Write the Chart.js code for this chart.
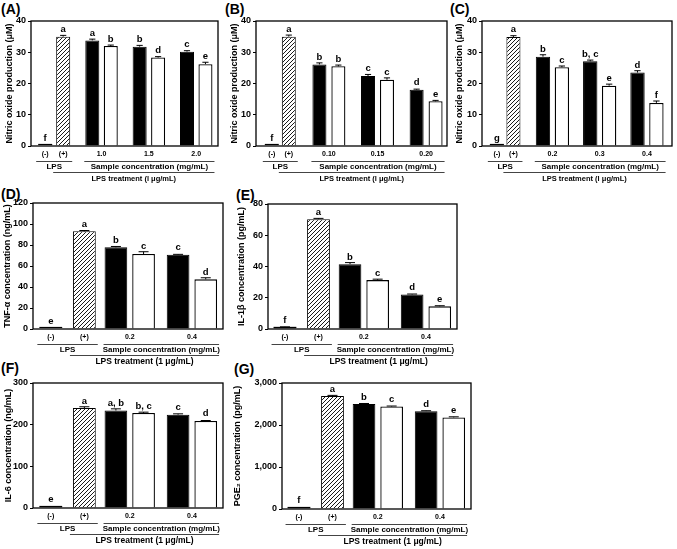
<!DOCTYPE html>
<html>
<head>
<meta charset="utf-8">
<script src="https://cdn.jsdelivr.net/npm/chart.js@4.4.1/dist/chart.umd.min.js"></script>
<style>
body { margin: 0; background: #fff; width: 677px; height: 549px; position: relative; overflow: hidden; font-family: "Liberation Sans", Arial, sans-serif; }
canvas { position: absolute; }
.tag { position: absolute; font-weight: bold; font-size: 14px; line-height: 14px; }
</style>
</head>
<body>
<div class="tag" style="left:1px;top:2px">(A)</div>
<div class="tag" style="left:225px;top:2px">(B)</div>
<div class="tag" style="left:450px;top:2px">(C)</div>
<div class="tag" style="left:1px;top:187px">(D)</div>
<div class="tag" style="left:236px;top:188px">(E)</div>
<div class="tag" style="left:1px;top:361px">(F)</div>
<div class="tag" style="left:234px;top:362px">(G)</div>
<canvas id="chartA"></canvas>
<canvas id="chartB"></canvas>
<canvas id="chartC"></canvas>
<canvas id="chartD"></canvas>
<canvas id="chartE"></canvas>
<canvas id="chartF"></canvas>
<canvas id="chartG"></canvas>
<script>
// ---- data ----
// ctrl = [LPS (-), LPS (+)], black / white = sample bars per concentration
const aConc = ["1.0", "1.5", "2.0"];
const aCtrl = [0.2, 35.0];
const aCtrlErr = [0, 0.4];
const aCtrlSig = ["f", "a"];
const aBlack = [33.8, 31.8, 30.2];
const aBlackErr = [0.4, 0.4, 0.3];
const aBlackSig = ["a", "b", "c"];
const aWhite = [32.0, 28.3, 26.2];
const aWhiteErr = [0.3, 0.3, 0.6];
const aWhiteSig = ["b", "d", "e"];

const bConc = ["0.10", "0.15", "0.20"];
const bCtrl = [0.2, 35.0];
const bCtrlErr = [0, 0.5];
const bCtrlSig = ["f", "a"];
const bBlack = [26.1, 22.4, 18.0];
const bBlackErr = [0.5, 0.5, 0.2];
const bBlackSig = ["b", "c", "d"];
const bWhite = [25.5, 21.2, 14.3];
const bWhiteErr = [0.4, 0.6, 0.3];
const bWhiteSig = ["b", "c", "e"];

const cConc = ["0.2", "0.3", "0.4"];
const cCtrl = [0.2, 34.9];
const cCtrlErr = [0, 0.4];
const cCtrlSig = ["g", "a"];
const cBlack = [28.6, 27.1, 23.5];
const cBlackErr = [0.6, 0.4, 0.6];
const cBlackSig = ["b", "b, c", "d"];
const cWhite = [25.2, 19.3, 13.8];
const cWhiteErr = [0.4, 0.5, 0.6];
const cWhiteSig = ["c", "e", "f"];

const noTicks = [0, 10, 20, 30, 40];

const dConc = ["0.2", "0.4"];
const dCtrl = [0.5, 93.0];
const dCtrlErr = [0, 0.8];
const dCtrlSig = ["e", "a"];
const dBlack = [77.8, 70.6];
const dBlackErr = [0.8, 0.5];
const dBlackSig = ["b", "c"];
const dWhite = [71.4, 47.3];
const dWhiteErr = [2.2, 1.5];
const dWhiteSig = ["c", "d"];
const dTicks = [0, 20, 40, 60, 80, 100, 120];

const eConc = ["0.2", "0.4"];
const eCtrl = [1.0, 70.3];
const eCtrlErr = [0.4, 0.5];
const eCtrlSig = ["f", "a"];
const eBlack = [41.5, 22.1];
const eBlackErr = [1.0, 0.3];
const eBlackSig = ["b", "d"];
const eWhite = [31.3, 14.5];
const eWhiteErr = [0.6, 0.4];
const eWhiteSig = ["c", "e"];
const eTicks = [0, 20, 40, 60, 80];

const fConc = ["0.2", "0.4"];
const fCtrl = [3, 240];
const fCtrlErr = [0, 3];
const fCtrlSig = ["e", "a"];
const fBlack = [234, 224];
const fBlackErr = [4, 2];
const fBlackSig = ["a, b", "c"];
const fWhite = [228, 209];
const fWhiteErr = [2, 1];
const fWhiteSig = ["b, c", "d"];
const fTicks = [0, 100, 200, 300];

const gConc = ["0.2", "0.4"];
const gCtrl = [30, 2690];
const gCtrlErr = [0, 15];
const gCtrlSig = ["f", "a"];
const gBlack = [2500, 2330];
const gBlackErr = [12, 10];
const gBlackSig = ["b", "d"];
const gWhite = [2440, 2180];
const gWhiteErr = [12, 15];
const gWhiteSig = ["c", "e"];
const gTicks = [0, 1000, 2000, 3000];

const FONT = '"Liberation Sans", Arial, sans-serif';
Chart.defaults.font.family = FONT;
Chart.defaults.color = "#000";

function hatchPattern() {
    let c = document.createElement("canvas");
    c.width = 4;
    c.height = 4;
    let g = c.getContext("2d");
    g.fillStyle = "#fff";
    g.fillRect(0, 0, 4, 4);
    g.strokeStyle = "#000";
    g.lineWidth = 0.9;
    g.beginPath();
    g.moveTo(0, 4); g.lineTo(4, 0);
    g.moveTo(-1, 1); g.lineTo(1, -1);
    g.moveTo(3, 5); g.lineTo(5, 3);
    g.stroke();
    return g.createPattern(c, "repeat");
}

function makeChart(id, d, L) {
    let slots = [0];
    for (let i = 0; i < d.conc.length; i++) slots.push(i + 1);

    let ctrlCol = (arr, k, empty) => slots.map(i => i === 0 ? arr[k] : empty);
    let sampCol = (arr, empty) => slots.map(i => i === 0 ? empty : arr[i - 1]);
    let pts = vals => vals.map((v, i) => ({x: slots[i], y: v}));

    let ctrlOpt = {categoryPercentage: L.cpCtrl, barPercentage: L.bpCtrl, skipNull: true, borderColor: "#000", borderSkipped: "start"};
    let sampOpt = {categoryPercentage: L.cp, barPercentage: L.bp, skipNull: true, borderColor: "#000", borderSkipped: "start"};

    let datasets = [
        Object.assign({data: pts(ctrlCol(d.ctrl, 0, null)), err: ctrlCol(d.ctrlErr, 0, 0), sig: ctrlCol(d.ctrlSig, 0, ""),
            backgroundColor: "#000", borderWidth: 1}, ctrlOpt),
        Object.assign({data: pts(ctrlCol(d.ctrl, 1, null)), err: ctrlCol(d.ctrlErr, 1, 0), sig: ctrlCol(d.ctrlSig, 1, ""),
            backgroundColor: hatchPattern(), borderWidth: 1}, ctrlOpt),
        Object.assign({data: pts(sampCol(d.black, null)), err: sampCol(d.blackErr, 0), sig: sampCol(d.blackSig, ""),
            backgroundColor: "#000", borderWidth: 1}, sampOpt),
        Object.assign({data: pts(sampCol(d.white, null)), err: sampCol(d.whiteErr, 0), sig: sampCol(d.whiteSig, ""),
            backgroundColor: "#fff", borderWidth: 1.3}, sampOpt)
    ];

    // error bars, letters, frame and the bracket labels under the axis
    let panelText = {
        id: "panelText",
        afterDatasetsDraw(chart) {
            let ctx = chart.ctx;
            let ys = chart.scales.y;
            ctx.save();
            chart.data.datasets.forEach((ds, di) => {
                let meta = chart.getDatasetMeta(di);
                meta.data.forEach((bar, i) => {
                    let v = ds.data[i].y;
                    if (v === null) return;
                    let top = ys.getPixelForValue(v + ds.err[i]);
                    let half = bar.width * 0.22;
                    if (ds.err[i] > 0) {
                        ctx.strokeStyle = "#000";
                        ctx.lineWidth = 1;
                        ctx.beginPath();
                        ctx.moveTo(bar.x, bar.y);
                        ctx.lineTo(bar.x, top);
                        ctx.moveTo(bar.x - half, top);
                        ctx.lineTo(bar.x + half, top);
                        ctx.stroke();
                    }
                    ctx.fillStyle = "#000";
                    ctx.font = "bold 9.5px " + FONT;
                    ctx.textAlign = "center";
                    ctx.textBaseline = "alphabetic";
                    ctx.fillText(ds.sig[i], bar.x, Math.min(top, bar.y - 1.5) - 3);
                });
            });
            // the near-zero (-) bar shows as a short dark line on the baseline
            let neg = chart.getDatasetMeta(0).data[0];
            let a = chart.chartArea;
            ctx.strokeStyle = "#000";
            ctx.lineWidth = 1.2;
            ctx.beginPath();
            ctx.moveTo(neg.x - neg.width / 2, Math.min(neg.y, a.bottom - 1.5));
            ctx.lineTo(neg.x + neg.width / 2, Math.min(neg.y, a.bottom - 1.5));
            ctx.stroke();

            ctx.lineWidth = 1.3;
            ctx.strokeRect(a.left, a.top, a.right - a.left, a.bottom - a.top);
            ctx.restore();
        },
        afterDraw(chart) {
            let ctx = chart.ctx;
            let B = chart.chartArea.bottom;
            let neg = chart.getDatasetMeta(0).data[0];
            let pos = chart.getDatasetMeta(1).data[0];
            let first = chart.getDatasetMeta(2).data[1];
            let whites = chart.getDatasetMeta(3).data;
            let last = whites[whites.length - 1];

            let l1a = neg.x - neg.width / 2 - 2, l1b = pos.x + pos.width / 2 + 2;
            let s1a = first.x - first.width / 2 - 1, s1b = last.x + last.width / 2 + 2;
            let l2a = pos.x - pos.width / 2 - 3;

            ctx.save();
            ctx.fillStyle = "#000";
            ctx.textAlign = "center";
            ctx.textBaseline = "middle";
            ctx.font = "bold 7px " + FONT;
            ctx.fillText("(-)", neg.x, B + 8);
            ctx.fillText("(+)", pos.x, B + 8);

            ctx.strokeStyle = "#444";
            ctx.lineWidth = 1;
            ctx.beginPath();
            ctx.moveTo(l1a, B + 15.5); ctx.lineTo(l1b, B + 15.5);
            ctx.moveTo(s1a, B + 15.5); ctx.lineTo(s1b, B + 15.5);
            ctx.moveTo(l2a, B + 26.5); ctx.lineTo(s1b, B + 26.5);
            ctx.stroke();

            ctx.font = "bold 8px " + FONT;
            ctx.fillText("LPS", (l1a + l1b) / 2, B + 21);
            ctx.fillText("Sample concentration (mg/mL)", (s1a + s1b) / 2, B + 21);
            ctx.font = "bold " + L.treatSize + "px " + FONT;
            ctx.fillText(L.treat, (l2a + s1b) / 2, B + 33);
            ctx.restore();
        }
    };

    let canvas = document.getElementById(id);
    canvas.width = L.w;
    canvas.height = L.h;
    canvas.style.left = L.left + "px";
    canvas.style.top = L.top + "px";

    return new Chart(canvas, {
        type: "bar",
        data: {datasets: datasets},
        options: {
            responsive: false,
            animation: false,
            layout: {padding: {left: 0, top: L.pt - L.top, right: L.left + L.w - L.pr, bottom: 0}},
            plugins: {legend: {display: false}, tooltip: {enabled: false}},
            scales: {
                x: {
                    type: "linear",
                    offset: false,
                    min: L.xMin,
                    max: L.xMax,
                    grid: {display: false, drawTicks: false},
                    border: {display: false},
                    afterBuildTicks: s => { s.ticks = d.conc.map((c, i) => ({value: i + 1})); },
                    afterFit: s => { s.height = L.top + L.h - L.pb; },
                    ticks: {
                        callback: v => d.conc[v - 1],
                        font: {size: 7, weight: "bold"},
                        padding: 4,
                        maxRotation: 0,
                        autoSkip: false
                    }
                },
                y: {
                    min: d.yTicks[0],
                    max: d.yTicks[d.yTicks.length - 1],
                    afterBuildTicks: s => { s.ticks = d.yTicks.map(v => ({value: v})); },
                    afterFit: s => { s.width = L.pl - L.left; },
                    grid: {display: true, drawOnChartArea: false, drawTicks: true, tickLength: 3, color: "#000", lineWidth: 1},
                    border: {display: false},
                    ticks: {
                        font: {size: 9, weight: "bold"},
                        padding: 2,
                        callback: v => v.toLocaleString("en-US")
                    },
                    title: {
                        display: true,
                        text: d.yTitle,
                        font: {size: 9, weight: "bold"},
                        padding: {top: L.tOff, bottom: 0}
                    }
                }
            }
        },
        plugins: [panelText]
    });
}

const rowOne = {cpCtrl: 0.76, bpCtrl: 0.78, cp: 0.78, bp: 0.76, treat: "LPS treatment (l \u03bcg/mL)", treatSize: 7.5};
const rowTwo = {cpCtrl: 1.08, bpCtrl: 0.68, cp: 0.89, bp: 0.82, treat: "LPS treatment (1 \u03bcg/mL)", treatSize: 8.5};

makeChart("chartA",
    {conc: aConc, ctrl: aCtrl, ctrlErr: aCtrlErr, ctrlSig: aCtrlSig, black: aBlack, blackErr: aBlackErr, blackSig: aBlackSig,
     white: aWhite, whiteErr: aWhiteErr, whiteSig: aWhiteSig, yTicks: noTicks, yTitle: "Nitric oxide production (\u03bcM)"},
    Object.assign({}, rowOne, {left: 0, top: 0, w: 225, h: 186, pl: 31, pt: 21, pr: 218, pb: 146, xMin: -0.49, xMax: 3.46, tOff: 4.5}));

makeChart("chartB",
    {conc: bConc, ctrl: bCtrl, ctrlErr: bCtrlErr, ctrlSig: bCtrlSig, black: bBlack, blackErr: bBlackErr, blackSig: bBlackSig,
     white: bWhite, whiteErr: bWhiteErr, whiteSig: bWhiteSig, yTicks: noTicks, yTitle: "Nitric oxide production (\u03bcM)"},
    Object.assign({}, rowOne, {left: 225, top: 0, w: 226, h: 186, pl: 256, pt: 21, pr: 447, pb: 146, xMin: -0.5, xMax: 3.43, tOff: 4.5,
        cpCtrl: 0.70, bpCtrl: 0.82, cp: 0.78, bp: 0.74}));

makeChart("chartC",
    {conc: cConc, ctrl: cCtrl, ctrlErr: cCtrlErr, ctrlSig: cCtrlSig, black: cBlack, blackErr: cBlackErr, blackSig: cBlackSig,
     white: cWhite, whiteErr: cWhiteErr, whiteSig: cWhiteSig, yTicks: noTicks, yTitle: "Nitric oxide production (\u03bcM)"},
    Object.assign({}, rowOne, {left: 451, top: 0, w: 226, h: 186, pl: 482, pt: 21, pr: 672, pb: 146, xMin: -0.49, xMax: 3.53, tOff: 3.5,
        cpCtrl: 0.70, bpCtrl: 0.85, cp: 0.80, bp: 0.76}));

makeChart("chartD",
    {conc: dConc, ctrl: dCtrl, ctrlErr: dCtrlErr, ctrlSig: dCtrlSig, black: dBlack, blackErr: dBlackErr, blackSig: dBlackSig,
     white: dWhite, whiteErr: dWhiteErr, whiteSig: dWhiteSig, yTicks: dTicks, yTitle: "TNF-\u03b1 concentration (ng/mL)"},
    Object.assign({}, rowTwo, {left: 0, top: 186, w: 232, h: 180, pl: 33, pt: 203, pr: 223, pb: 329, xMin: -0.556, xMax: 2.5, tOff: 2.5}));

makeChart("chartE",
    {conc: eConc, ctrl: eCtrl, ctrlErr: eCtrlErr, ctrlSig: eCtrlSig, black: eBlack, blackErr: eBlackErr, blackSig: eBlackSig,
     white: eWhite, whiteErr: eWhiteErr, whiteSig: eWhiteSig, yTicks: eTicks, yTitle: "IL-1\u03b2 concentration (pg/mL)"},
    Object.assign({}, rowTwo, {left: 232, top: 186, w: 240, h: 180, pl: 268, pt: 204, pr: 457, pb: 329, xMin: -0.543, xMax: 2.5, tOff: 4}));

makeChart("chartF",
    {conc: fConc, ctrl: fCtrl, ctrlErr: fCtrlErr, ctrlSig: fCtrlSig, black: fBlack, blackErr: fBlackErr, blackSig: fBlackSig,
     white: fWhite, whiteErr: fWhiteErr, whiteSig: fWhiteSig, yTicks: fTicks, yTitle: "IL-6 concentration (ng/mL)"},
    Object.assign({}, rowTwo, {left: 0, top: 366, w: 232, h: 183, pl: 33, pt: 383, pr: 223, pb: 508, xMin: -0.556, xMax: 2.5, tOff: 3.5}));

makeChart("chartG",
    {conc: gConc, ctrl: gCtrl, ctrlErr: gCtrlErr, ctrlSig: gCtrlSig, black: gBlack, blackErr: gBlackErr, blackSig: gBlackSig,
     white: gWhite, whiteErr: gWhiteErr, whiteSig: gWhiteSig, yTicks: gTicks, yTitle: "PGE\u2082 concentration (pg/mL)"},
    Object.assign({}, rowTwo, {left: 232, top: 366, w: 240, h: 183, pl: 282, pt: 383, pr: 471, pb: 509, xMin: -0.543, xMax: 2.5, tOff: 0.5}));
</script>
</body>
</html>
